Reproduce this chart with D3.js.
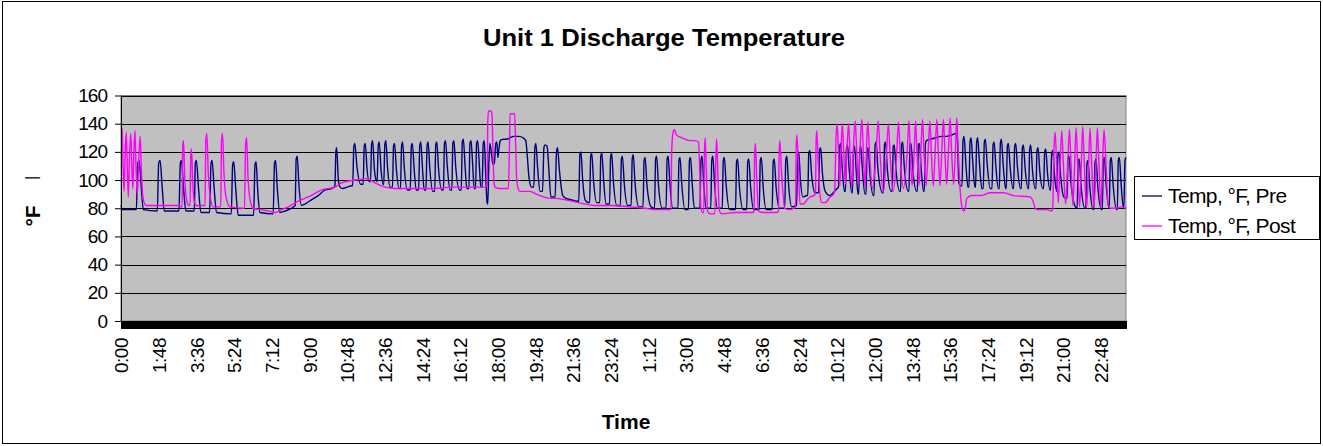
<!DOCTYPE html>
<html>
<head>
<meta charset="utf-8">
<script src="https://d3js.org/d3.v7.min.js"></script>
<style>
body { margin: 0; background: #fff; }
text { font-family: "Liberation Sans", Arial, sans-serif; fill: #000; }
</style>
</head>
<body>
<svg id="chart" width="1323" height="446"></svg>
<script>
// [minutes since first reading, temperature in °F]
var preSeries = [
  [0,82],[4,79],[44,79],[48,112],[52,114],[58,95],[64,79],
  [104,78],[108,112],[112,114],[118,95],[124,78],
  [166,78],[170,112],[173,114],[179,95],[186,78],
  [210,78],[213,112],[216,114],[222,95],[229,77],
  [254,77],[258,112],[261,114],[267,94],[274,77],
  [316,76],[320,111],[323,113],[329,93],[336,75],
  [380,75],[384,111],[387,113],[392,92],[398,77],
  [436,76],[440,112],[443,114],[448,94],[455,77],
  [470,78],[495,81],
  [499,82],[502,115],[505,117],[510,96],[517,82],[527,83],[546,86],[565,89],[585,93],[603,94],[611,95],
  [613,96],[616,121],[618,123],[623,100],[628,95],
  [635,94],[648,95],[661,96],
  [664,96],[667,123],[670,126],[676,110],[687,97],
  [694,97],[697,124],[700,126],[705,108],[711,99],
  [715,99],[718,125],[721,128],[726,108],[731,100],
  [734,99],[737,124],[740,127],[745,108],[751,97],
  [753,97],[756,125],[759,128],[764,108],[771,95],
  [778,95],[781,124],[784,126],[789,108],[797,94],
  [801,94],[804,124],[807,127],[812,108],[820,93],
  [829,93],[832,124],[835,126],[840,108],[846,93],
  [853,93],[856,124],[859,127],[864,108],[869,93],
  [874,93],[877,124],[880,127],[885,108],[893,92],
  [899,92],[902,125],[905,127],[910,108],[919,93],
  [924,93],[927,126],[930,128],[935,110],[943,93],
  [948,93],[951,126],[954,128],[959,110],[970,93],
  [975,93],[978,127],[981,129],[986,110],[991,94],
  [997,94],[1000,126],[1003,128],[1008,110],[1012,94],
  [1016,94],[1019,126],[1022,128],[1027,110],[1031,95],
  [1035,95],[1038,126],[1041,128],[1045,105],[1049,84],
  [1051,83],[1054,110],[1057,126],[1062,118],[1066,111],[1070,112],[1074,126],[1077,127],[1080,116],[1083,122],
  [1087,128],[1095,129],[1105,129],[1115,130],[1125,131],[1140,131],[1152,130],[1160,128],[1164,118],[1170,100],[1177,95],
  [1183,95],[1186,123],[1189,126],[1194,108],[1201,92],
  [1208,92],[1212,123],[1215,125],[1221,124],[1226,108],[1232,88],
  [1244,88],[1248,120],[1251,123],[1256,108],[1266,89],[1276,87],[1290,86],[1310,85],
  [1312,85],[1315,118],[1318,120],[1323,100],[1330,86],[1340,84],
  [1343,84],[1346,117],[1349,119],[1354,100],[1363,84],
  [1372,84],[1375,117],[1378,119],[1383,100],[1390,83],
  [1400,83],[1403,116],[1406,119],[1411,99],[1421,82],
  [1431,82],[1434,115],[1437,117],[1442,98],[1452,82],
  [1462,82],[1465,115],[1468,118],[1473,98],[1484,81],
  [1496,81],[1499,114],[1502,116],[1507,97],[1519,81],
  [1529,80],[1532,115],[1535,117],[1540,97],[1551,80],
  [1562,80],[1565,115],[1568,117],[1573,97],[1581,80],
  [1596,80],[1599,114],[1602,116],[1607,97],[1616,79],
  [1626,79],[1629,114],[1632,116],[1637,97],[1643,80],
  [1659,80],[1662,114],[1665,117],[1670,97],[1677,80],
  [1690,80],[1693,114],[1696,117],[1701,97],[1709,80],
  [1723,80],[1726,114],[1729,116],[1734,97],[1744,79],
  [1761,79],[1764,113],[1767,115],[1772,96],[1783,79],
  [1793,79],[1796,113],[1799,115],[1804,96],[1813,79],
  [1829,79],[1832,114],[1835,116],[1840,96],[1849,79],
  [1866,79],[1869,113],[1872,115],[1877,96],[1887,80],
  [1902,80],[1905,114],[1908,117],[1913,97],[1922,81],
  [1936,82],[1939,117],[1942,120],[1947,100],[1954,88],[1965,89],
  [1968,89],[1971,119],[1974,121],[1979,104],[1989,91],
  [1999,91],[2002,121],[2005,123],[2010,105],[2018,92],[2032,89],[2045,92],[2052,94],
  [2056,95],[2059,123],[2062,126],[2067,108],[2073,92],
  [2076,92],[2079,122],[2082,125],[2087,107],[2094,91],
  [2096,91],[2099,121],[2102,124],[2107,106],[2112,90],
  [2114,90],[2117,121],[2120,124],[2125,106],[2132,90],
  [2135,90],[2138,120],[2141,123],[2146,105],[2156,89],
  [2158,89],[2161,125],[2164,127],[2169,108],[2182,91],
  [2185,91],[2188,125],[2191,127],[2196,108],[2207,92],
  [2210,92],[2213,124],[2216,125],[2221,107],[2232,92],
  [2234,92],[2237,125],[2240,127],[2245,108],[2256,92],
  [2258,92],[2261,125],[2264,126],[2269,108],[2280,92],
  [2282,92],[2285,125],[2288,126],[2293,108],[2300,92],
  [2302,92],[2305,125],[2308,128],[2320,129],[2335,130],[2350,131],[2365,131],[2380,132],[2393,133],[2397,128],[2401,98],[2405,96],
  [2410,96],[2413,128],[2416,131],[2421,112],[2427,95],
  [2430,95],[2433,127],[2436,130],[2441,112],[2447,95],
  [2449,95],[2452,127],[2455,130],[2460,112],[2467,94],
  [2471,94],[2474,127],[2477,129],[2482,112],[2491,94],
  [2496,94],[2499,125],[2502,127],[2507,110],[2514,94],
  [2517,94],[2520,126],[2523,129],[2528,111],[2535,94],
  [2537,94],[2540,124],[2543,126],[2548,109],[2556,94],
  [2558,94],[2561,124],[2564,126],[2569,109],[2578,94],
  [2580,94],[2583,123],[2586,125],[2591,108],[2599,94],
  [2601,94],[2604,122],[2607,125],[2612,107],[2620,94],
  [2622,94],[2625,121],[2628,123],[2633,106],[2642,94],
  [2644,94],[2647,120],[2650,122],[2655,105],[2662,93],
  [2664,93],[2667,119],[2670,121],[2675,104],[2681,92],
  [2682,92],[2685,118],[2688,120],[2693,102],[2702,88],
  [2711,87],[2714,115],[2717,117],[2722,99],[2735,81],
  [2740,80],[2743,113],[2746,115],[2751,97],[2762,80],
  [2765,80],[2768,112],[2771,114],[2776,96],[2786,79],
  [2788,79],[2791,112],[2794,115],[2799,96],[2810,79],
  [2812,79],[2815,113],[2818,116],[2823,97],[2831,80],
  [2832,80],[2835,114],[2838,116],[2843,97],[2853,79],
  [2855,79],[2858,114],[2861,116],[2866,97],[2873,80],
  [2874,80],[2877,114],[2880,116]
];

var postSeries = [
  [0,137],[3,136],[6,110],[9,92],[12,120],[15,134],[18,110],[21,88],[24,115],[28,133],[31,110],[34,94],
  [37,120],[40,135],[43,110],[47,90],[51,115],[55,131],[58,110],[62,90],[66,84],[72,82],
  [100,82],[130,82],[164,82],[172,81],
  [175,81],[177,125],[179,128],[183,100],[188,86],[194,82],
  [198,82],[200,118],[202,122],[206,96],[210,85],[215,82],
  [241,82],[243,128],[246,133],[250,105],[256,88],[264,81],
  [286,81],[288,128],[291,133],[295,105],[301,88],[312,81],
  [354,80],[357,125],[360,130],[364,102],[370,86],[379,80],
  [400,79],[425,78],[441,77],[460,79],[480,81],[508,85],[537,88],[575,93],[613,95],[632,98],[670,100],
  [704,101],[715,100],[728,98],[757,95],[785,94],[814,94],
  [850,94],[900,94],[950,95],[1000,95],[1045,95],[1049,96],
  [1051,140],[1053,149],[1060,149],[1063,147],[1066,120],[1069,98],[1072,95],[1085,94],[1110,94],
  [1113,120],[1115,147],[1128,147],[1131,125],[1134,100],[1138,94],[1143,92],[1172,92],[1190,90],[1200,89],[1229,87],
  [1244,87],[1273,86],[1311,84],[1358,82],[1406,82],[1454,81],[1502,80],[1530,79],[1576,79],
  [1578,120],[1582,134],[1585,136],[1592,132],[1607,130],[1630,128],[1645,128],
  [1655,127],[1658,110],[1662,80],[1666,77],[1670,77],[1672,120],[1674,130],[1677,110],[1681,78],[1688,76],
  [1702,76],[1705,120],[1707,129],[1710,108],[1715,78],[1722,76],[1760,77],[1790,77],[1812,77],
  [1814,78],[1816,120],[1818,126],[1822,100],[1827,78],[1840,77],[1860,77],[1880,77],
  [1884,78],[1886,120],[1888,128],[1893,105],[1902,80],[1915,79],[1928,80],
  [1933,81],[1935,125],[1937,132],[1941,110],[1946,83],[1956,83],[1966,86],[1975,88],[1985,89],
  [1990,90],[1992,128],[1994,135],[1998,112],[2003,90],[2008,84],[2018,84],[2032,88],[2042,90],
  [2045,92],[2049,130],[2052,140],[2056,120],[2060,96],
  [2064,125],[2067,140],[2071,120],[2076,97],
  [2081,125],[2085,140],[2089,120],[2094,95],
  [2100,128],[2104,142],[2108,122],[2113,97],
  [2119,128],[2123,143],[2127,122],[2132,95],
  [2137,128],[2140,141],[2145,120],[2153,94],
  [2163,115],[2170,142],[2175,120],[2184,91],
  [2193,115],[2199,140],[2204,118],[2213,92],
  [2222,115],[2228,141],[2233,118],[2242,94],
  [2253,120],[2258,142],[2262,120],[2267,96],
  [2273,120],[2277,142],[2281,120],[2287,96],
  [2292,120],[2297,143],[2301,120],[2307,96],
  [2313,120],[2318,142],[2322,120],[2328,96],
  [2333,120],[2338,143],[2342,120],[2347,96],
  [2352,120],[2357,143],[2361,120],[2366,97],
  [2371,120],[2376,144],[2380,122],[2386,97],
  [2391,120],[2395,144],[2398,128],[2403,100],[2409,82],[2415,78],[2419,80],[2424,87],[2438,89],[2465,89],
  [2491,91],[2529,91],[2557,89],[2605,88],[2612,86],[2620,80],[2626,79],[2653,79],[2667,78],
  [2670,80],[2674,125],[2677,134],[2681,112],[2686,84],
  [2691,112],[2696,135],[2700,114],[2707,83],
  [2713,112],[2718,136],[2722,114],[2728,82],
  [2733,112],[2737,137],[2741,115],[2747,81],
  [2752,112],[2756,138],[2760,115],[2767,80],
  [2773,112],[2777,137],[2781,115],[2788,80],
  [2794,112],[2798,137],[2802,115],[2808,80],
  [2813,112],[2817,136],[2822,115],[2829,82],
  [2836,80],[2850,80],[2866,81],[2880,80]
];

var seriesNames = ["Temp, \u00b0F, Pre", "Temp, \u00b0F, Post"];
var seriesColors = ["#000080", "#ff00ff"];

var tickMinutes = [0,108,216,324,432,540,648,756,864,972,1080,1188,1296,1404,1512,
                   1620,1728,1836,1944,2052,2160,2268,2376,2484,2592,2700,2808];
var tickLabels = ["0:00","1:48","3:36","5:24","7:12","9:00","10:48","12:36","14:24","16:12","18:00",
                  "19:48","21:36","23:24","1:12","3:00","4:48","6:36","8:24","10:12","12:00","13:48",
                  "15:36","17:24","19:12","21:00","22:48"];
var yTicks = [0,20,40,60,80,100,120,140,160];

var svg = d3.select("#chart"),
    plot = {left: 121, top: 95.5, right: 1126, bottom: 321};

var x = d3.scaleLinear().domain([0, 2880]).range([plot.left, plot.right]),
    y = d3.scaleLinear().domain([0, 160]).range([plot.bottom, plot.top]);

// chart border
svg.append("rect")
    .attr("x", 2.5).attr("y", 1.5)
    .attr("width", 1318).attr("height", 442)
    .attr("fill", "#fff").attr("stroke", "#000");

svg.append("text")
    .attr("x", 664).attr("y", 46)
    .attr("text-anchor", "middle")
    .attr("font-size", 23).attr("font-weight", "bold")
    .attr("textLength", 362).attr("lengthAdjust", "spacingAndGlyphs")
    .text("Unit 1 Discharge Temperature");

// plot area
svg.append("rect")
    .attr("x", plot.left).attr("y", plot.top)
    .attr("width", plot.right - plot.left).attr("height", plot.bottom - plot.top)
    .attr("fill", "#c0c0c0").attr("stroke", "#808080");

svg.append("g")
    .selectAll("line")
    .data(yTicks.slice(1))
    .enter().append("line")
      .attr("x1", plot.left).attr("x2", plot.right)
      .attr("y1", function(d) { return Math.round(y(d)) + 0.5; })
      .attr("y2", function(d) { return Math.round(y(d)) + 0.5; })
      .attr("stroke", "#000");

var line = d3.line()
    .x(function(d) { return x(d[0]); })
    .y(function(d) { return y(d[1]); })
    .curve(d3.curveMonotoneX);

[preSeries, postSeries].forEach(function(s, i) {
  svg.append("path")
      .datum(s)
      .attr("fill", "none")
      .attr("stroke", seriesColors[i])
      .attr("stroke-width", 1.4)
      .attr("d", line);
});

// y axis
var yAxis = svg.append("g")
    .attr("transform", "translate(" + plot.left + ",0)")
    .call(d3.axisLeft(y).tickValues(yTicks).tickSize(6).tickPadding(8).tickSizeOuter(0));
yAxis.selectAll("text").attr("font-size", 19).attr("letter-spacing", -1).attr("font-family", null);
yAxis.selectAll("line, path").attr("stroke", "#000");

// x axis: one tick per reading gives the solid black band
svg.append("g")
    .attr("transform", "translate(0," + plot.bottom + ")")
    .call(d3.axisBottom(x).tickValues(d3.range(0, 2881, 1)).tickSize(8).tickSizeOuter(0).tickFormat(""))
    .selectAll("line, path").attr("stroke", "#000").attr("stroke-width", 1);

var xLabels = svg.append("g")
    .attr("transform", "translate(0," + plot.bottom + ")")
    .call(d3.axisBottom(x).tickValues(tickMinutes).tickSize(0)
      .tickFormat(function(d, i) { return tickLabels[i]; }));
xLabels.select(".domain").remove();
xLabels.selectAll("text")
    .attr("font-size", 19).attr("font-family", null)
    .attr("letter-spacing", -0.5)
    .attr("transform", "rotate(-90)")
    .attr("x", -17).attr("y", 0).attr("dy", "0.35em")
    .attr("text-anchor", "end");

svg.append("text")
    .attr("x", 626).attr("y", 429)
    .attr("text-anchor", "middle")
    .attr("font-size", 21).attr("font-weight", "bold")
    .text("Time");

// y axis title
svg.append("text")
    .attr("transform", "translate(40,216) rotate(-90)")
    .attr("text-anchor", "middle")
    .attr("font-size", 21).attr("font-weight", "bold")
    .text("\u00b0F");
svg.append("text")
    .attr("transform", "translate(36.5,178) rotate(-90)")
    .attr("text-anchor", "middle")
    .attr("font-size", 16)
    .text("|");

// legend
var legend = svg.append("g");
legend.append("rect")
    .attr("x", 1134.5).attr("y", 176.5)
    .attr("width", 185).attr("height", 63)
    .attr("fill", "#fff").attr("stroke", "#000");
seriesNames.forEach(function(name, i) {
  var ly = 196 + i * 30;
  legend.append("line")
      .attr("x1", 1142).attr("x2", 1162)
      .attr("y1", ly).attr("y2", ly)
      .attr("stroke", seriesColors[i]).attr("stroke-width", 1.3);
  legend.append("text")
      .attr("x", 1168).attr("y", ly + 7)
      .attr("font-size", 21).attr("letter-spacing", -0.6)
      .text(name);
});
</script>
</body>
</html>
